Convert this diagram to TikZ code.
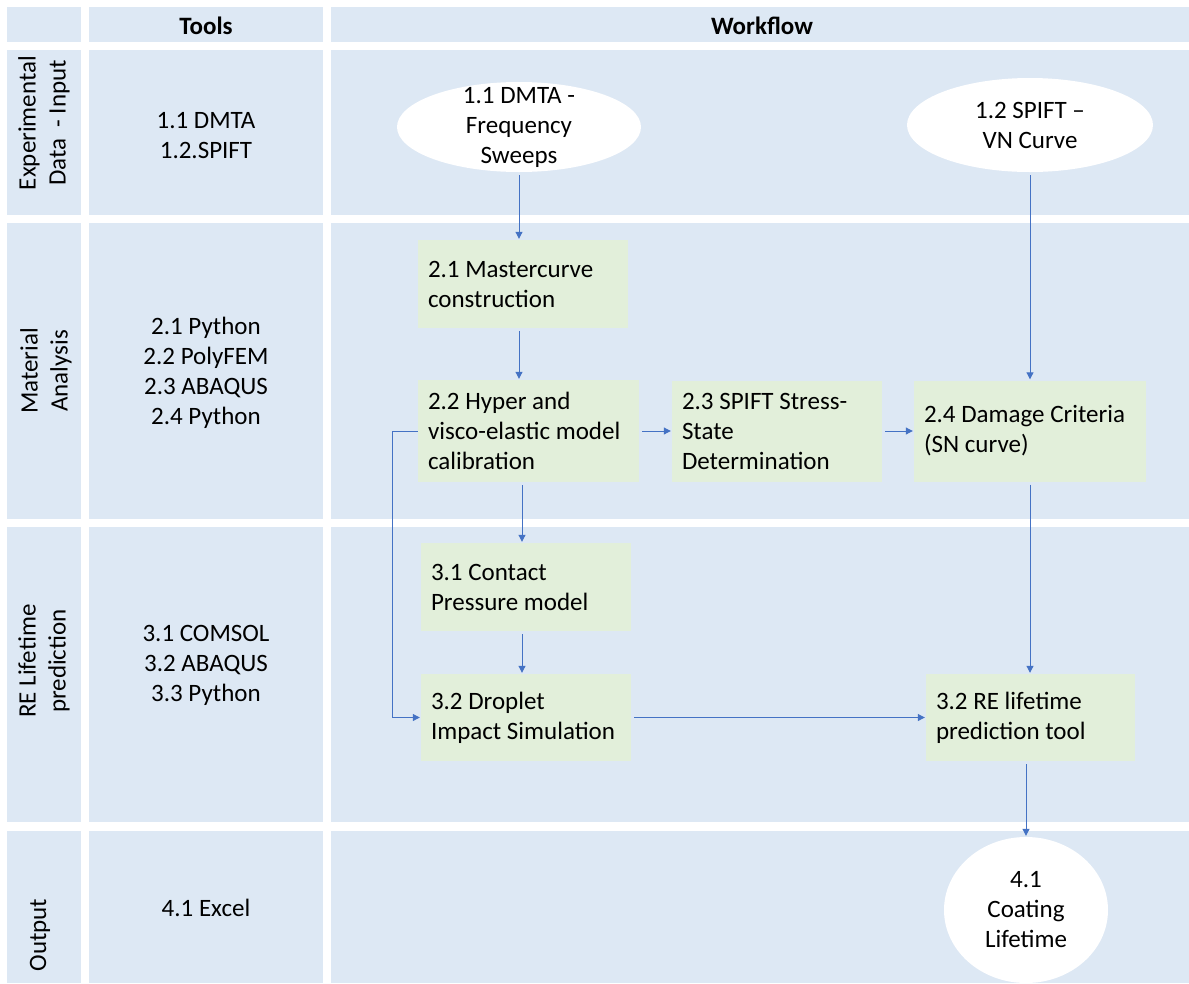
\documentclass[tikz,border=0pt]{standalone}
\usepackage{fontspec}
\setmainfont{Carlito}
\usetikzlibrary{shapes.geometric,arrows.meta,positioning}
\definecolor{lanefill}{RGB}{221,232,244}
\definecolor{stepfill}{RGB}{226,239,218}
\definecolor{flowblue}{RGB}{68,114,196}
\newcommand{\wffont}{\fontsize{25}{30}\selectfont}
% one cell of the swimlane table: name, x0, y0, x1, y1
\newcommand{\lanecell}[5]{%
  \pgfmathsetmacro{\cellw}{#4-#2}
  \pgfmathsetmacro{\cellh}{#5-#3}
  \node[lanebox, minimum width=\cellw pt, minimum height=\cellh pt] (#1) at ({(#2+#4)/2}, {(#3+#5)/2}) {};
}
\begin{document}
\begin{tikzpicture}[x=1pt, y=-1pt,
  lanebox/.style={fill=lanefill, inner sep=0pt, outer sep=0pt},
  lanetext/.style={align=center, font=\wffont, inner sep=0pt},
  stepbox/.style={fill=stepfill, align=flush left, font=\wffont, inner xsep=10pt, inner ysep=0pt},
  inout/.style={ellipse, fill=white, inner sep=0pt},
  flow/.style={draw=flowblue, line width=1pt, -{Triangle[length=7pt,width=7pt]}, shorten <=3pt, shorten >=1pt}]

\useasboundingbox (0,0) rectangle (1189,983);

% table
\lanecell{h0}{7}{7}{81}{42}
\lanecell{h1}{89}{7}{323}{42}
\lanecell{h2}{331}{7}{1189}{42}
\lanecell{a0}{7}{50}{81}{215}
\lanecell{a1}{89}{50}{323}{215}
\lanecell{a2}{331}{50}{1189}{215}
\lanecell{b0}{7}{223}{81}{519}
\lanecell{b1}{89}{223}{323}{519}
\lanecell{b2}{331}{223}{1189}{519}
\lanecell{c0}{7}{527}{81}{822}
\lanecell{c1}{89}{527}{323}{822}
\lanecell{c2}{331}{527}{1189}{822}
\lanecell{d0}{7}{831}{81}{983}
\lanecell{d1}{89}{831}{323}{983}
\lanecell{d2}{331}{831}{1189}{983}

\node[lanetext, font=\wffont\bfseries] (toolshead) at (206,26) {Tools};
\node[lanetext, font=\wffont\bfseries] (flowhead) at (762,26) {Workflow};

\node[lanetext, rotate=90] (inputlbl) at (44,123) {Experimental\\Data~~- Input};
\node[lanetext, rotate=90] (analysislbl) at (46,371) {Material\\Analysis};
\node[lanetext, rotate=90] (predictlbl) at (44,661) {RE Lifetime\\prediction};
\node[lanetext, rotate=90] (outputlbl) at (40,935) {Output};

\node[lanetext] (inputtools) at (206,136) {1.1 DMTA\\1.2.SPIFT};
\node[lanetext] (analysistools) at (206,373) {2.1 Python\\2.2 PolyFEM\\2.3 ABAQUS\\2.4 Python};
\node[lanetext] (predicttools) at (206,665) {3.1 COMSOL\\3.2 ABAQUS\\3.3 Python};
\node[lanetext] (outputtools) at (206,908) {4.1 Excel};

% workflow
\node[inout, minimum width=244pt, minimum height=90pt,
  label={[lanetext]center:1.1 DMTA -\\Frequency\\Sweeps}] (dmta) at (519,127) {};
\node[inout, minimum width=246pt, minimum height=94pt,
  label={[lanetext]center:1.2 SPIFT --\\VN Curve}] (spift) at (1030,125) {};

\node[stepbox, text width=190pt, minimum height=88pt] (master) at (523,284) {2.1 Mastercurve\\construction};
\node[stepbox, text width=201pt, minimum height=102pt] (hyper) at (528.5,431) {2.2 Hyper and\\visco-elastic model\\calibration};
\node[stepbox, text width=190pt, minimum height=101pt] (stress) at (777,431) {2.3 SPIFT Stress-\\State\\Determination};
\node[stepbox, text width=212pt, minimum height=101pt] (damage) at (1030,431) {2.4 Damage Criteria\\(SN curve)};
\node[stepbox, text width=190pt, minimum height=88pt] (contact) at (526,587) {3.1 Contact\\Pressure model};
\node[stepbox, text width=190pt, minimum height=87pt] (droplet) at (526,717.5) {3.2 Droplet\\Impact Simulation};
\node[stepbox, text width=189pt, minimum height=87pt] (retool) at (1030.5,717.5) {3.2 RE lifetime\\prediction tool};

\node[inout, minimum width=164pt, minimum height=146pt,
  label={[lanetext]center:4.1\\Coating\\Lifetime}] (coating) at (1026,910) {};

\coordinate (colA) at (522,0);

\draw[flow] (dmta.south) -- (dmta.south |- master.north);
\draw[flow] (master.south -| dmta) -- (hyper.north -| dmta);
\draw[flow] (hyper.east) -- (hyper.east -| stress.west);
\draw[flow] (stress.east) -- (stress.east -| damage.west);
\draw[flow] (spift.south) -- (spift.south |- damage.north);
\draw[flow] (hyper.south -| colA) -- (contact.north -| colA);
\draw[flow] (contact.south -| colA) -- (droplet.north -| colA);
\draw[flow, shorten <=0pt] (hyper.west) -- ++(-25,0) |- (droplet.west);
\draw[flow] (droplet.east) -- (droplet.east -| retool.west);
\draw[flow] (damage.south) -- (damage.south |- retool.north);
\draw[flow] (retool.south -| coating) -- (coating.north);

\end{tikzpicture}
\end{document}
